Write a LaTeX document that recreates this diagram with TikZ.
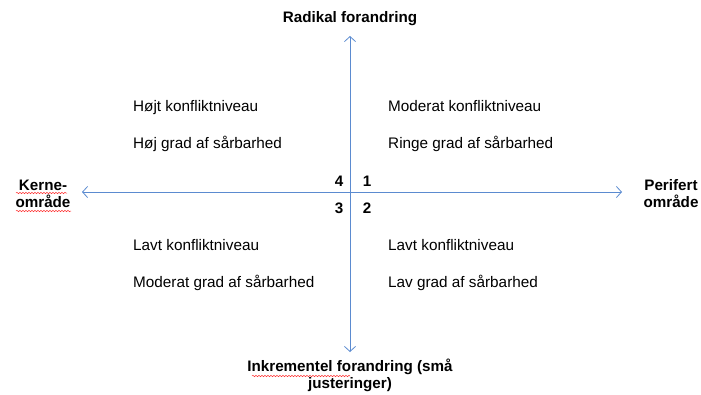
\documentclass[tikz,border=0pt]{standalone}
\usepackage{fontspec}
\setmainfont{Liberation Sans}
\usetikzlibrary{arrows.meta,decorations.pathmorphing}
\definecolor{axisblue}{HTML}{5B8BD0}
\tikzset{
  lbl/.style={anchor=west,inner sep=0pt,text height=11pt,text depth=3pt,font=\fontsize{15.3}{17}\selectfont},
  head/.style={inner sep=0pt,align=center,font=\fontsize{15.2}{17}\selectfont\bfseries},
  num/.style={inner sep=0pt,text height=11pt,text depth=3pt,font=\fontsize{15.2}{17}\selectfont\bfseries},
  axis/.style={draw=axisblue,line width=0.8pt,{Straight Barb[length=5pt,width=11pt]}-{Straight Barb[length=5pt,width=11pt]}},
  squig/.style={draw=red!80,line width=0.5pt,decorate,decoration={snake,amplitude=0.7pt,segment length=3pt}}
}
\begin{document}
\begin{tikzpicture}[x=1pt,y=-1pt]
\useasboundingbox (0,0) rectangle (701,394);
\coordinate (top) at (350,36);
\coordinate (bot) at (350,352);
\coordinate (lft) at (82,192);
\coordinate (rgt) at (622,192);
\draw[axis] (bot) -- (top);
\draw[axis] (lft) -- (rgt);

\node[head] (radikal) at (350,19) {Radikal forandring};
\node[head] (inkr) at (350,375) {Inkrementel forandring (små\\justeringer)};
\node[head] (kerne) at (43,194) {Kerne-\\område};
\node[head] (perif) at (671,194) {Perifert\\område};

\node[lbl] (q4a) at (133,107.5) {Højt konfliktniveau};
\node[lbl] (q4b) at (133,144.5) {Høj grad af sårbarhed};
\node[lbl] (q1a) at (388,107.5) {Moderat konfliktniveau};
\node[lbl] (q1b) at (388,144.5) {Ringe grad af sårbarhed};
\node[lbl] (q3a) at (133,246.5) {Lavt konfliktniveau};
\node[lbl] (q3b) at (133,283.5) {Moderat grad af sårbarhed};
\node[lbl] (q2a) at (388,246.5) {Lavt konfliktniveau};
\node[lbl] (q2b) at (388,283.5) {Lav grad af sårbarhed};

\node[num] (n4) at (339,182) {4};
\node[num] (n1) at (367,182) {1};
\node[num] (n3) at (339,209) {3};
\node[num] (n2) at (367,209) {2};

\draw[squig] (16,193) -- (67,193);
\draw[squig] (16,211) -- (71,211);
\draw[squig] (252,376) -- (350,376);
\end{tikzpicture}
\end{document}
